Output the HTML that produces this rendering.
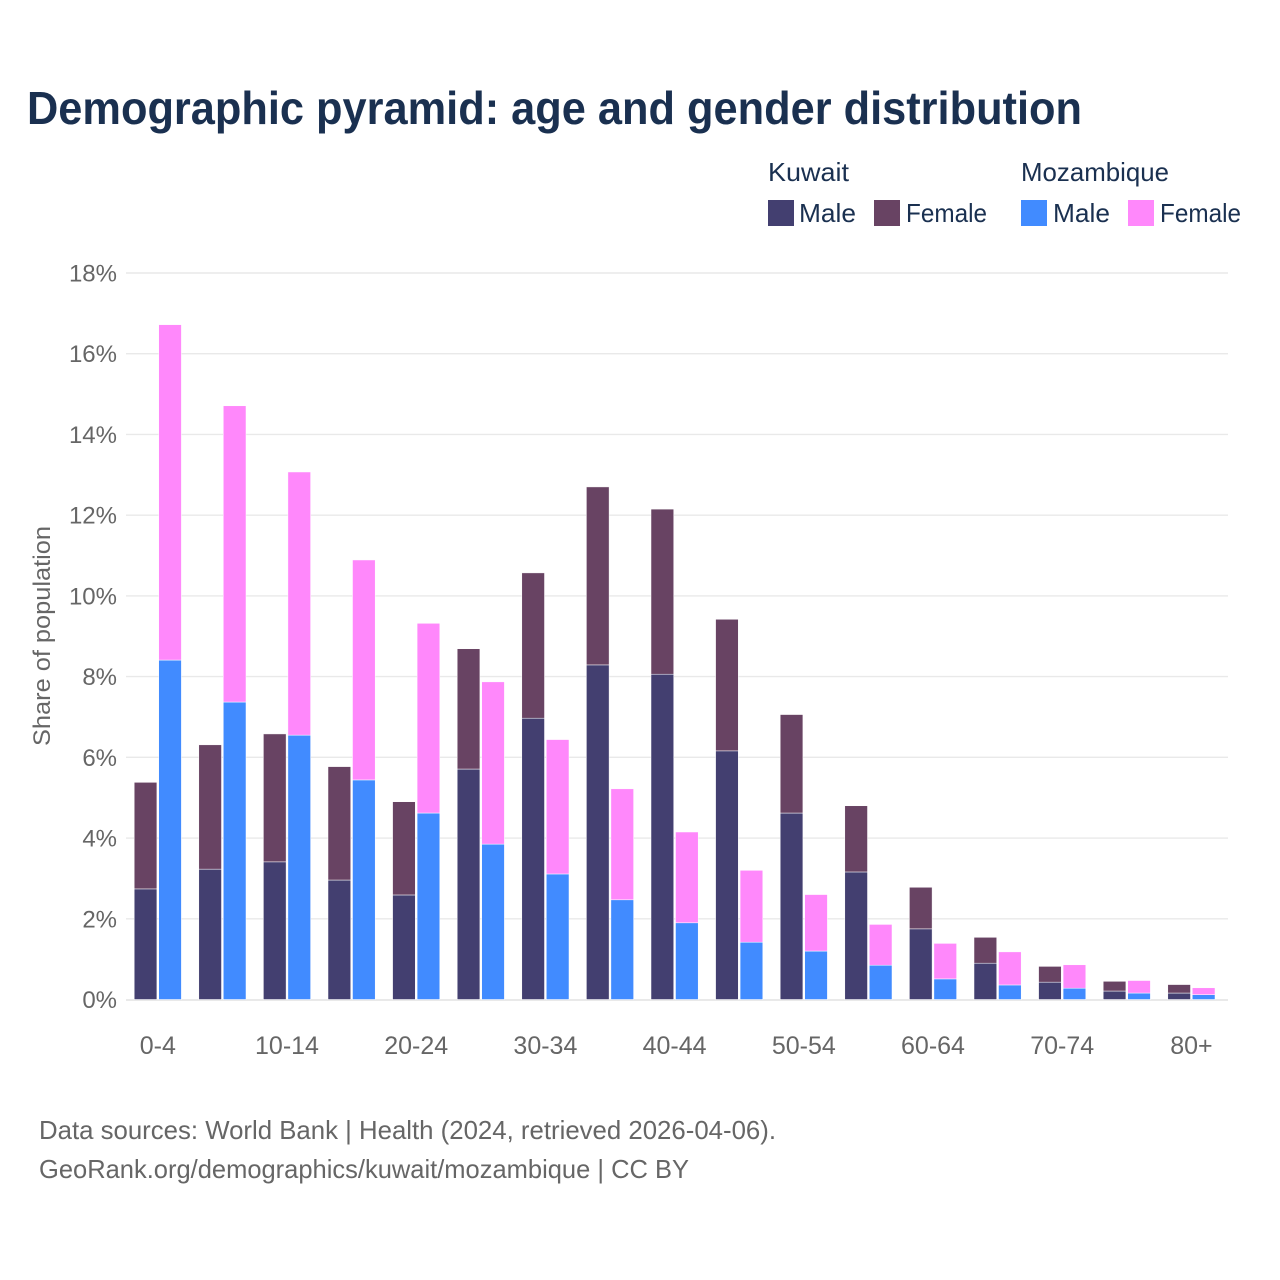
<!DOCTYPE html>
<html lang="en">
<head>
<meta charset="utf-8">
<title>Demographic pyramid: age and gender distribution</title>
<style>
html,body{margin:0;padding:0;background:#fff}
svg{display:block;font-family:"Liberation Sans",sans-serif}
</style>
</head>
<body>
<svg id="chart" xmlns="http://www.w3.org/2000/svg" width="1280" height="1280" viewBox="0 0 1280 1280">
  <rect x="0" y="0" width="1280" height="1280" fill="#ffffff"/>
  <text x="27" y="124" font-size="46" font-weight="700" fill="#1a3050" textLength="1055" lengthAdjust="spacingAndGlyphs">Demographic pyramid: age and gender distribution</text>

  <g font-size="26" fill="#1a3050">
    <text x="768" y="181" textLength="81" lengthAdjust="spacingAndGlyphs">Kuwait</text>
    <text x="1021" y="181" textLength="148" lengthAdjust="spacingAndGlyphs">Mozambique</text>
    <g>
      <rect x="768" y="200" width="26" height="26" fill="#433f70"/>
      <text x="799" y="222" textLength="57" lengthAdjust="spacingAndGlyphs">Male</text>
    </g>
    <g>
      <rect x="874" y="200" width="26" height="26" fill="#684363"/>
      <text x="906" y="222" textLength="81" lengthAdjust="spacingAndGlyphs">Female</text>
    </g>
    <g>
      <rect x="1021" y="200" width="26" height="26" fill="#418bff"/>
      <text x="1053" y="222" textLength="57" lengthAdjust="spacingAndGlyphs">Male</text>
    </g>
    <g>
      <rect x="1128" y="200" width="26" height="26" fill="#ff88fb"/>
      <text x="1160" y="222" textLength="81" lengthAdjust="spacingAndGlyphs">Female</text>
    </g>
  </g>

  <g id="grid"></g>
  <g id="y-ticks"></g>
  <g id="bars"></g>
  <g id="x-ticks"></g>

  <text transform="translate(50,636) rotate(-90)" text-anchor="middle" font-size="24" fill="#666666" textLength="220" lengthAdjust="spacingAndGlyphs">Share of population</text>

  <text x="39" y="1139" font-size="26" fill="#666666" textLength="737" lengthAdjust="spacingAndGlyphs">Data sources: World Bank | Health (2024, retrieved 2026-04-06).</text>
  <text x="39" y="1178" font-size="26" fill="#666666" textLength="650" lengthAdjust="spacingAndGlyphs">GeoRank.org/demographics/kuwait/mozambique | CC BY</text>
</svg>
<script>
const ageGroups = ["0-4","5-9","10-14","15-19","20-24","25-29","30-34","35-39","40-44","45-49","50-54","55-59","60-64","65-69","70-74","75-79","80+"];
const xTickLabels = ["0-4","10-14","20-24","30-34","40-44","50-54","60-64","70-74","80+"];
const yTickValues = [0,2,4,6,8,10,12,14,16,18];
const kuwaitMale = [2.74,3.23,3.41,2.96,2.59,5.71,6.97,8.29,8.06,6.16,4.62,3.16,1.75,0.90,0.43,0.21,0.16];
const kuwaitFemale = [2.64,3.08,3.17,2.81,2.31,2.98,3.60,4.41,4.09,3.26,2.44,1.64,1.03,0.64,0.39,0.24,0.21];
const mozambiqueMale = [8.41,7.37,6.55,5.44,4.62,3.85,3.11,2.47,1.90,1.42,1.20,0.85,0.51,0.36,0.28,0.16,0.12];
const mozambiqueFemale = [8.31,7.34,6.52,5.45,4.70,4.02,3.33,2.75,2.25,1.78,1.40,1.01,0.88,0.82,0.58,0.31,0.17];

const NS = "http://www.w3.org/2000/svg";
const plotLeft = 126, plotRight = 1228, plotBottom = 999.5, plotTop = 273;
const yMax = 18;
const bandStep = 64.6, firstCenter = 157.8;
const barWidth = 22.7, barGap = 1.8;

function yScale(v) { return plotBottom - (v / yMax) * (plotBottom - plotTop); }
function xCenter(i) { return firstCenter + i * bandStep; }

const grid = document.getElementById("grid");
const yTicks = document.getElementById("y-ticks");
yTickValues.forEach(function (v) {
  const line = document.createElementNS(NS, "line");
  
  
  line.setAttribute("x1", plotLeft);
  line.setAttribute("x2", plotRight);
  line.setAttribute("y1", yScale(v) + (v === 0 ? 0.5 : 0));
  line.setAttribute("y2", yScale(v) + (v === 0 ? 0.5 : 0));
  line.setAttribute("stroke", "#e9e9e9");
  line.setAttribute("stroke-width", v === 0 ? 2 : 1.4);
  grid.appendChild(line);

  const label = document.createElementNS(NS, "text");
  
  
  label.setAttribute("x", 117);
  label.setAttribute("y", yScale(v) + 8.5);
  label.setAttribute("text-anchor", "end");
  label.setAttribute("font-size", "24");
  label.setAttribute("fill", "#666666");
  label.textContent = v + "%";
  yTicks.appendChild(label);
});

const bars = document.getElementById("bars");
function addBar(x, bottomValue, value, color) {
  const r = document.createElementNS(NS, "rect");
  
  
  r.setAttribute("x", x);
  r.setAttribute("y", yScale(bottomValue + value));
  r.setAttribute("width", barWidth);
  r.setAttribute("height", yScale(bottomValue) - yScale(bottomValue + value));
  r.setAttribute("fill", color);
  r.setAttribute("stroke", "#ffffff");
  r.setAttribute("stroke-width", "0.5");
  bars.appendChild(r);
}
ageGroups.forEach(function (group, i) {
  const cx = xCenter(i);
  const kx = cx - barWidth - barGap / 2;
  const mx = cx + barGap / 2;
  addBar(kx, 0, kuwaitMale[i], "#433f70");
  addBar(kx, kuwaitMale[i], kuwaitFemale[i], "#684363");
  addBar(mx, 0, mozambiqueMale[i], "#418bff");
  addBar(mx, mozambiqueMale[i], mozambiqueFemale[i], "#ff88fb");
});

const xTicks = document.getElementById("x-ticks");
xTickLabels.forEach(function (name) {
  const t = document.createElementNS(NS, "text");
  
  
  t.setAttribute("x", xCenter(ageGroups.indexOf(name)));
  t.setAttribute("y", 1054);
  t.setAttribute("text-anchor", "middle");
  t.setAttribute("font-size", "25");
  t.setAttribute("fill", "#666666");
  t.textContent = name;
  xTicks.appendChild(t);
});
</script>
</body>
</html>
